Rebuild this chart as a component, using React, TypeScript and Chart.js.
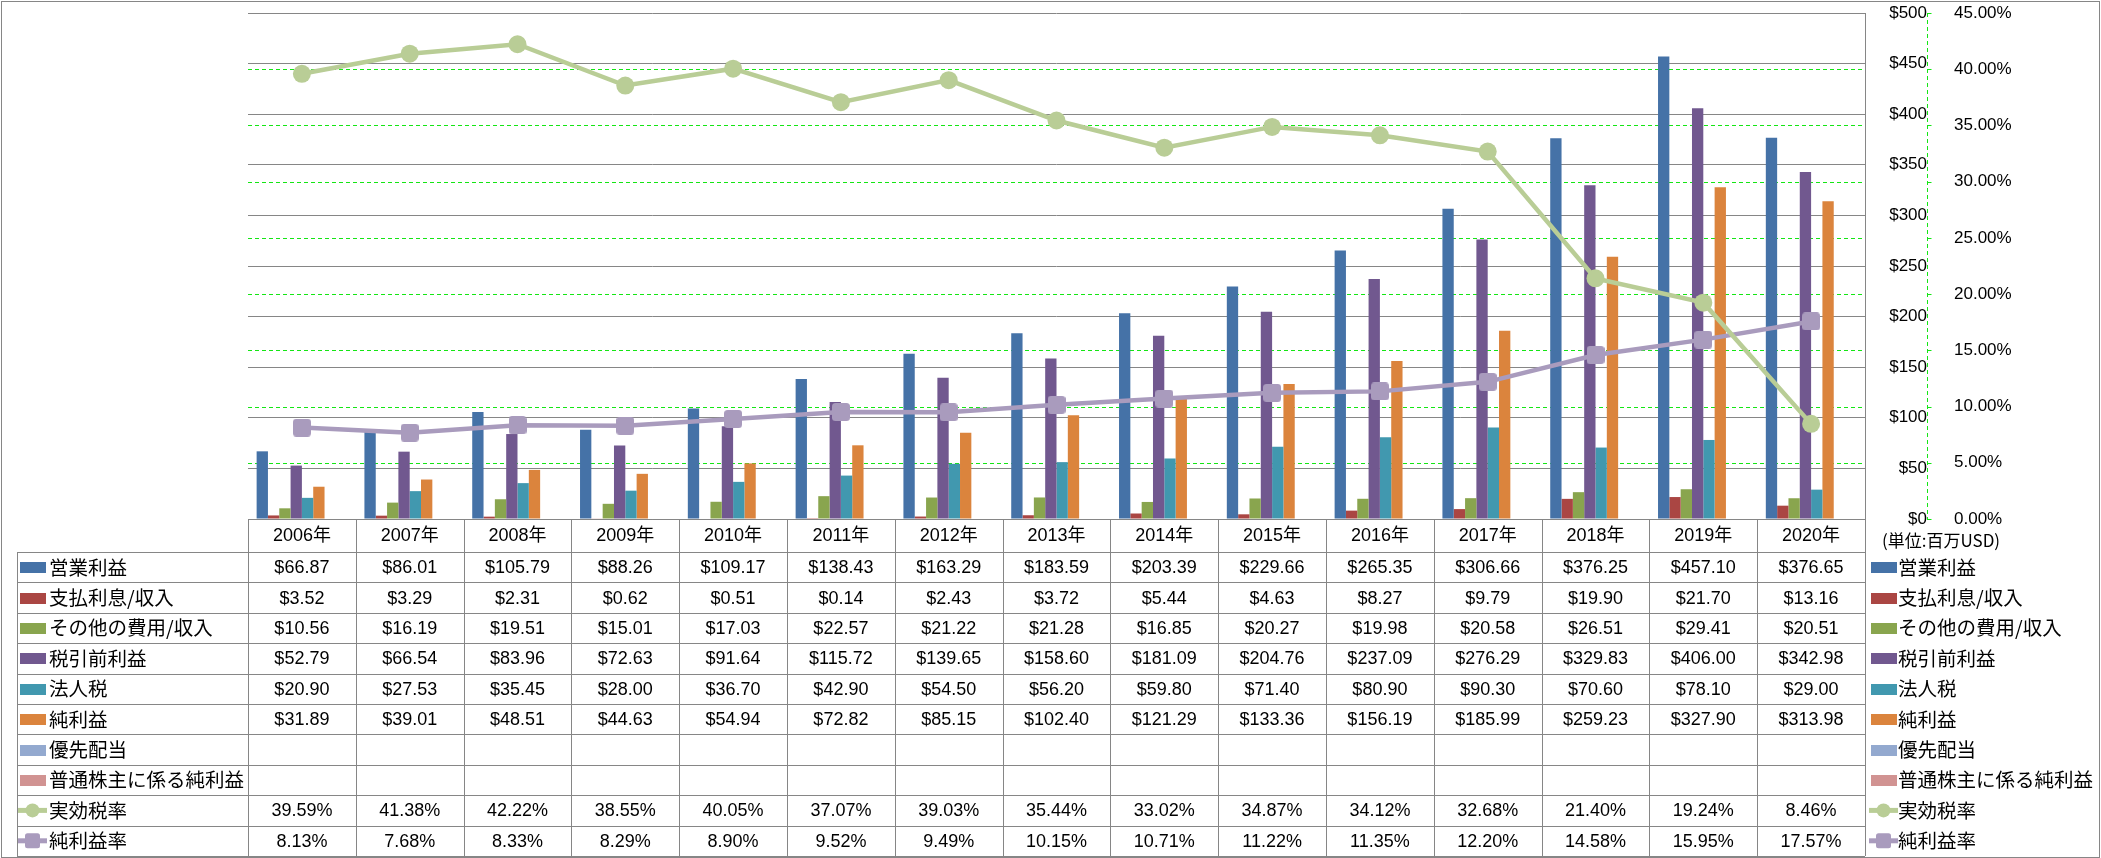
import React, { useEffect, useRef } from 'react';
import { Chart, registerables } from 'chart.js';

Chart.register(...registerables);

// ---------- data ----------
const years = ['2006年', '2007年', '2008年', '2009年', '2010年', '2011年', '2012年', '2013年', '2014年', '2015年', '2016年', '2017年', '2018年', '2019年', '2020年'];

const operatingIncome = [66.87, 86.01, 105.79, 88.26, 109.17, 138.43, 163.29, 183.59, 203.39, 229.66, 265.35, 306.66, 376.25, 457.10, 376.65];
const interestExpense = [3.52, 3.29, 2.31, 0.62, 0.51, 0.14, 2.43, 3.72, 5.44, 4.63, 8.27, 9.79, 19.90, 21.70, 13.16];
const otherExpense = [10.56, 16.19, 19.51, 15.01, 17.03, 22.57, 21.22, 21.28, 16.85, 20.27, 19.98, 20.58, 26.51, 29.41, 20.51];
const preTaxIncome = [52.79, 66.54, 83.96, 72.63, 91.64, 115.72, 139.65, 158.60, 181.09, 204.76, 237.09, 276.29, 329.83, 406.00, 342.98];
const incomeTax = [20.90, 27.53, 35.45, 28.00, 36.70, 42.90, 54.50, 56.20, 59.80, 71.40, 80.90, 90.30, 70.60, 78.10, 29.00];
const netIncome = [31.89, 39.01, 48.51, 44.63, 54.94, 72.82, 85.15, 102.40, 121.29, 133.36, 156.19, 185.99, 259.23, 327.90, 313.98];
const preferredDividends: (number | null)[] = [null, null, null, null, null, null, null, null, null, null, null, null, null, null, null];
const netIncomeToCommon: (number | null)[] = [null, null, null, null, null, null, null, null, null, null, null, null, null, null, null];
const effectiveTaxRate = [39.59, 41.38, 42.22, 38.55, 40.05, 37.07, 39.03, 35.44, 33.02, 34.87, 34.12, 32.68, 21.40, 19.24, 8.46];
const netMargin = [8.13, 7.68, 8.33, 8.29, 8.90, 9.52, 9.49, 10.15, 10.71, 11.22, 11.35, 12.20, 14.58, 15.95, 17.57];

const dollarTicks = [0, 50, 100, 150, 200, 250, 300, 350, 400, 450, 500];
const percentTicks = [0, 5, 10, 15, 20, 25, 30, 35, 40, 45];
const unitLabel = '(単位:百万USD)';

// ---------- styles ----------
const GRAY = '#868686';
const GREEN_GRID = '#14e614';
const LATIN = '"Liberation Sans", "Noto Sans CJK JP", sans-serif';
const CJK = '"Noto Sans CJK JP", sans-serif';

type Series = { name: string; data: (number | null)[]; color: string; kind: 'bar' | 'circle' | 'square' };

const series: Series[] = [
  { name: '営業利益', data: operatingIncome, color: '#4572A7', kind: 'bar' },
  { name: '支払利息/収入', data: interestExpense, color: '#AA4643', kind: 'bar' },
  { name: 'その他の費用/収入', data: otherExpense, color: '#89A54E', kind: 'bar' },
  { name: '税引前利益', data: preTaxIncome, color: '#71588F', kind: 'bar' },
  { name: '法人税', data: incomeTax, color: '#4198AF', kind: 'bar' },
  { name: '純利益', data: netIncome, color: '#DB843D', kind: 'bar' },
  { name: '優先配当', data: preferredDividends, color: '#93A9CF', kind: 'bar' },
  { name: '普通株主に係る純利益', data: netIncomeToCommon, color: '#D19392', kind: 'bar' },
  { name: '実効税率', data: effectiveTaxRate, color: '#B9CD96', kind: 'circle' },
  { name: '純利益率', data: netMargin, color: '#A99BBD', kind: 'square' },
];

function roundedSquare(color: string, size: number, r: number): HTMLCanvasElement {
  const c = document.createElement('canvas');
  c.width = size;
  c.height = size;
  const g = c.getContext('2d')!;
  g.fillStyle = color;
  g.beginPath();
  g.roundRect(0, 0, size, size, r);
  g.fill();
  return c;
}

function fmtCell(s: Series, v: number | null): string {
  if (v === null || v === undefined) return '';
  if (s.kind === 'bar') return '$' + v.toFixed(2);
  return v.toFixed(2) + '%';
}

// dashed green gridlines of the percent axis, drawn under the bars
const percentGridPlugin = {
  id: 'percentGrid',
  beforeDatasetsDraw(chart: any) {
    const ctx: CanvasRenderingContext2D = chart.ctx;
    const area = chart.chartArea;
    const y1 = chart.scales.y1;
    const first = percentTicks[0];
    const last = percentTicks[percentTicks.length - 1];
    ctx.save();
    ctx.strokeStyle = GREEN_GRID;
    ctx.lineWidth = 1;
    ctx.setLineDash([4, 3]);
    for (const v of percentTicks) {
      if (v === first || v === last) continue;
      const y = Math.round(y1.getPixelForValue(v)) + 0.5;
      ctx.beginPath();
      ctx.moveTo(area.left, y);
      ctx.lineTo(area.right, y);
      ctx.stroke();
    }
    const x = Math.round(y1.left) + 0.5;
    ctx.beginPath();
    ctx.moveTo(x, area.top);
    ctx.lineTo(x, area.bottom + 1);
    ctx.stroke();
    ctx.setLineDash([]);
    for (const v of percentTicks) {
      const y = Math.round(y1.getPixelForValue(v)) + 0.5;
      ctx.beginPath();
      ctx.moveTo(x, y);
      ctx.lineTo(x + 4, y);
      ctx.stroke();
    }
    ctx.restore();
  },
};

const tablePlugin = {
  id: 'dataTable',
  afterDraw(chart: any) {
    const ctx: CanvasRenderingContext2D = chart.ctx;
    const area = chart.chartArea;
    const xs = chart.scales.x;
    const n = years.length;
    const colW = (area.right - area.left) / n;
    const tableLeft = 17;
    const headerTop = area.bottom;
    const headerH = 33;
    const rowTop0 = headerTop + headerH;
    const rowH = 30.4;
    const bottom = rowTop0 + rowH * series.length;

    ctx.save();
    ctx.strokeStyle = GRAY;
    ctx.lineWidth = 1;
    const hline = (x1: number, x2: number, y: number) => {
      const yy = Math.round(y) + 0.5;
      ctx.beginPath();
      ctx.moveTo(x1, yy);
      ctx.lineTo(x2, yy);
      ctx.stroke();
    };
    const vline = (x: number, y1: number, y2: number) => {
      const xx = Math.round(x) + 0.5;
      ctx.beginPath();
      ctx.moveTo(xx, y1);
      ctx.lineTo(xx, y2);
      ctx.stroke();
    };

    hline(area.left, area.right, headerTop);
    for (let r = 0; r <= series.length; r++) hline(tableLeft, area.right, rowTop0 + r * rowH);
    vline(tableLeft, rowTop0, bottom);
    for (let c = 0; c <= n; c++) {
      const x = c < n ? xs.getPixelForValue(c) - colW / 2 : xs.getPixelForValue(n - 1) + colW / 2;
      vline(x, headerTop, bottom);
    }

    ctx.fillStyle = '#000';
    ctx.textAlign = 'center';
    ctx.textBaseline = 'middle';
    ctx.font = '18px ' + LATIN;
    for (let c = 0; c < n; c++) {
      ctx.fillText(years[c], xs.getPixelForValue(c), headerTop + headerH / 2 + 1);
    }

    const drawKey = (s: Series, x: number, cy: number) => {
      if (s.kind === 'bar') {
        ctx.fillStyle = s.color;
        ctx.fillRect(x + 2, Math.round(cy) - 5, 26, 11);
      } else {
        ctx.strokeStyle = s.color;
        ctx.lineWidth = 5;
        ctx.beginPath();
        ctx.moveTo(x, cy);
        ctx.lineTo(x + 29, cy);
        ctx.stroke();
        ctx.fillStyle = s.color;
        ctx.beginPath();
        if (s.kind === 'circle') {
          ctx.arc(x + 14.5, cy, 7, 0, Math.PI * 2);
        } else {
          ctx.roundRect(x + 7, cy - 7.5, 15, 15, 2.5);
        }
        ctx.fill();
      }
    };

    for (let r = 0; r < series.length; r++) {
      const s = series[r];
      const cy = rowTop0 + r * rowH + rowH / 2;
      drawKey(s, 18, cy);
      ctx.fillStyle = '#000';
      ctx.textAlign = 'left';
      ctx.textBaseline = 'middle';
      ctx.font = '19.5px ' + CJK;
      ctx.fillText(s.name, 49, cy);
      ctx.textAlign = 'center';
      ctx.font = '18px ' + LATIN;
      for (let c = 0; c < n; c++) {
        const t = fmtCell(s, s.data[c]);
        if (t) ctx.fillText(t, xs.getPixelForValue(c), cy + 1);
      }
      drawKey(s, area.right + 4, cy);
      ctx.fillStyle = '#000';
      ctx.textAlign = 'left';
      ctx.font = '19.5px ' + CJK;
      ctx.fillText(s.name, area.right + 33, cy);
    }

    ctx.font = '17px ' + CJK;
    ctx.textAlign = 'left';
    ctx.fillText(unitLabel, area.right + 17, headerTop + 22);

    ctx.strokeStyle = GRAY;
    ctx.lineWidth = 1;
    ctx.strokeRect(1.5, 1.5, chart.width - 3, chart.height - 2);
    ctx.restore();
  },
};

export default function App() {
  const ref = useRef<HTMLCanvasElement>(null);
  useEffect(() => {
    document.body.style.margin = '0';
    document.body.style.overflow = 'hidden';
    const datasets: any[] = series.map((s) => {
      if (s.kind === 'bar') {
        return {
          type: 'bar',
          label: s.name,
          data: s.data,
          backgroundColor: s.color,
          borderWidth: 0,
          yAxisID: 'y',
          order: 1,
          categoryPercentage: 0.84,
          barPercentage: 1.0,
        };
      }
      return {
        type: 'line',
        label: s.name,
        data: s.data,
        borderColor: s.color,
        backgroundColor: s.color,
        borderWidth: 4.5,
        tension: 0,
        yAxisID: 'y1',
        order: 0,
        pointStyle: s.kind === 'circle' ? 'circle' : roundedSquare(s.color, 18, 3.5),
        pointRadius: 9,
        pointBackgroundColor: s.color,
        pointBorderColor: s.color,
        pointBorderWidth: 0,
      };
    });

    const chart = new Chart(ref.current!, {
      type: 'bar',
      data: { labels: years, datasets },
      options: {
        animation: false,
        responsive: false,
        devicePixelRatio: 1,
        events: [],
        layout: { padding: { left: 248, top: 13, right: 44, bottom: 339 } },
        plugins: { legend: { display: false }, tooltip: { enabled: false } },
        scales: {
          x: {
            type: 'category',
            display: false,
            offset: true,
          },
          y: {
            type: 'linear',
            position: 'right',
            weight: 0,
            min: dollarTicks[0],
            max: dollarTicks[dollarTicks.length - 1],
            afterBuildTicks: (s: any) => {
              s.ticks = dollarTicks.map((v) => ({ value: v }));
            },
            afterFit: (s: any) => {
              s.width = 62;
              s.paddingTop = 8;
              s.paddingBottom = 8;
            },
            grid: { color: GRAY, lineWidth: 1, drawTicks: false },
            border: { display: true, color: GRAY, width: 1 },
            ticks: {
              padding: 20,
              crossAlign: 'far',
              color: '#000',
              font: { family: LATIN, size: 17 },
              callback: (v: any) => '$' + v,
            },
          },
          y1: {
            type: 'linear',
            position: 'right',
            weight: 1,
            min: percentTicks[0],
            max: percentTicks[percentTicks.length - 1],
            afterBuildTicks: (s: any) => {
              s.ticks = percentTicks.map((v) => ({ value: v }));
            },
            afterFit: (s: any) => {
              s.width = 130;
              s.paddingTop = 8;
              s.paddingBottom = 8;
            },
            grid: { display: false },
            border: { display: false },
            ticks: {
              padding: 19,
              color: '#000',
              font: { family: LATIN, size: 17 },
              callback: (v: any) => Number(v).toFixed(2) + '%',
            },
          },
        },
      } as any,
      plugins: [percentGridPlugin, tablePlugin],
    });
    return () => chart.destroy();
  }, []);

  return <canvas ref={ref} width={2101} height={858} style={{ display: 'block' }} />;
}
